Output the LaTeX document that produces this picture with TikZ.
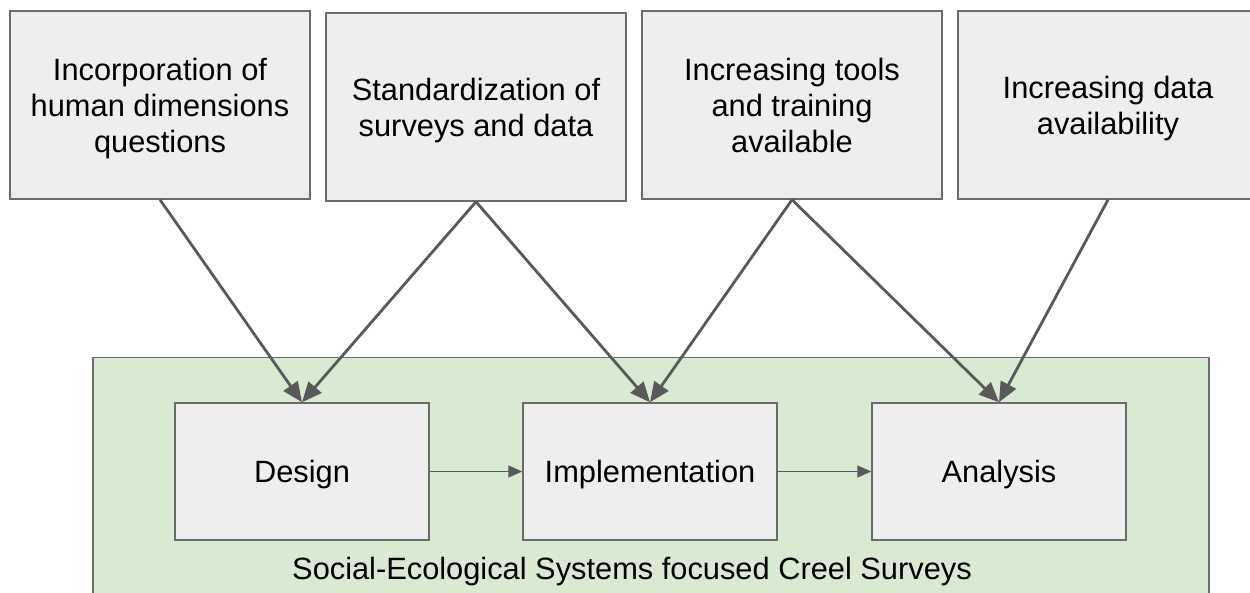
\documentclass[tikz,border=0pt]{standalone}
\usepackage{fontspec}
\setmainfont{Liberation Sans}
\usetikzlibrary{arrows.meta}
\definecolor{boxfill}{HTML}{EEEEEE}
\definecolor{boxline}{HTML}{6B6B6B}
\definecolor{arrowgray}{HTML}{595959}
\definecolor{sesgreen}{HTML}{D9EAD3}
\begin{document}
\begin{tikzpicture}[x=1pt,y=-1pt,
  label font/.style={font=\fontsize{30.8}{36}\selectfont},
  driver/.style={draw=boxline,line width=1.5pt,fill=boxfill,minimum width=300pt,minimum height=188pt,
    align=center,inner sep=0pt,text depth=0pt,label font},
  stage/.style={draw=boxline,line width=1.5pt,fill=boxfill,minimum width=254pt,minimum height=137pt,
    inner sep=0pt,text depth=0pt,label font},
  influence/.style={draw=arrowgray,line width=2.8pt,-{Triangle[length=20pt,width=17pt]}},
  flow/.style={draw=arrowgray,line width=1.4pt,-{Triangle[length=14pt,width=12pt]}}]
\useasboundingbox (0,0) rectangle (1250,593);
\clip (0,0) rectangle (1250,593);
% enclosing frame of the survey process
\node[draw=boxline,line width=1.5pt,fill=sesgreen,minimum width=1116pt,minimum height=260pt,inner sep=0pt,anchor=north west]
  (frame) at (92,357) {};
\node[label font] (framelabel) at (632,572) {Social-Ecological Systems focused Creel Surveys};
% drivers
\node[driver] (hd) at (160,105) {Incorporation of\\human dimensions\\questions};
\node[driver] (std) at (476,107) {Standardization of\\surveys and data};
\node[driver] (tools) at (792,105) {Increasing tools\\and training\\available};
\node[driver] (data) at (1108,105) {Increasing data\\availability};
% stages
\node[stage] (design) at (302,471.5) {Design};
\node[stage] (impl) at (650,471.5) {Implementation};
\node[stage] (analysis) at (999,471.5) {Analysis};
% influences
\draw[influence] (hd.south) -- (design.north);
\draw[influence] (std.south) -- (design.north);
\draw[influence] (std.south) -- (impl.north);
\draw[influence] (tools.south) -- (impl.north);
\draw[influence] (tools.south) -- (analysis.north);
\draw[influence] (data.south) -- (analysis.north);
% process flow
\draw[flow] (design.east) -- (impl.west);
\draw[flow] (impl.east) -- (analysis.west);
\end{tikzpicture}
\end{document}
